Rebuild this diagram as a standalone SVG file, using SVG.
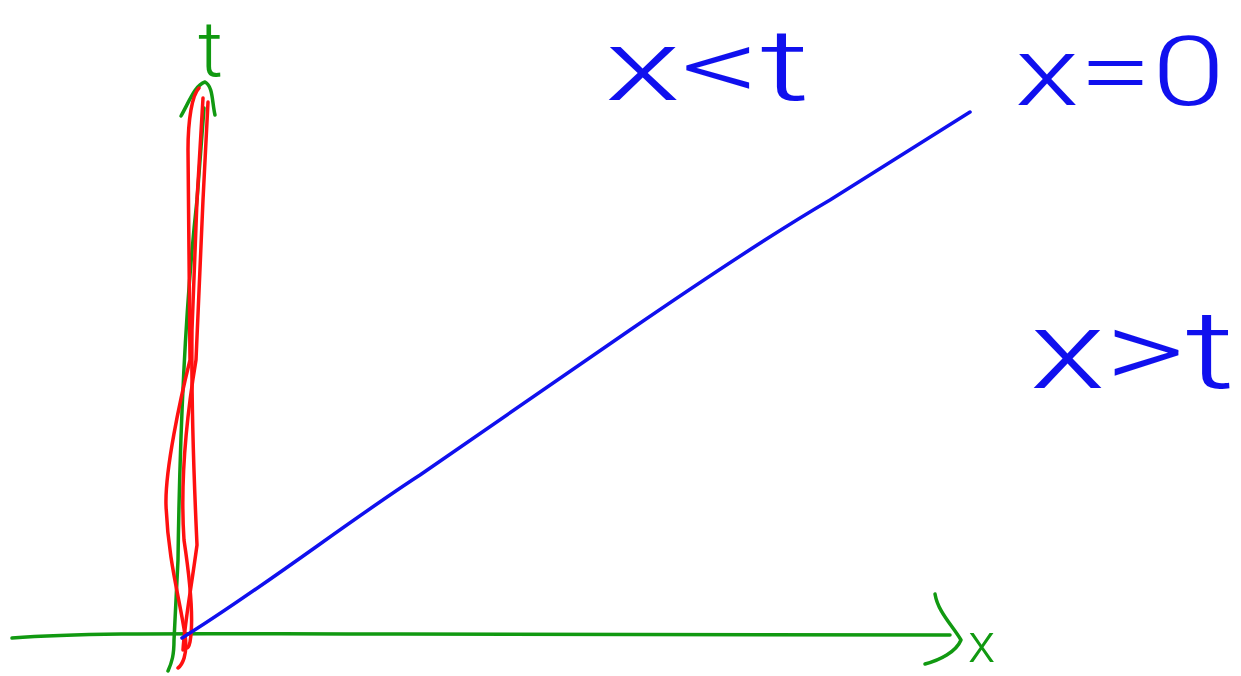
<svg xmlns="http://www.w3.org/2000/svg" width="1241" height="676" viewBox="0 0 1241 676">
<style>
.s{fill:none;stroke-width:3.5;stroke-linecap:round;stroke-linejoin:round}
.g{stroke:#119911}
.r{stroke:#ff1010}
.b{stroke:#1010ee}
.t{font-family:Roboto,"Liberation Sans",Arial,sans-serif;font-weight:300}
.tb{fill:#1010ee}
.tg{fill:#119911}
</style>
<rect width="1241" height="676" fill="#ffffff"/>
<g id="axes">
<path class="s g" d="M12,638 C90,632 200,634 400,634 L950,635"/>
<path class="s g" d="M935,594 C938,612 952,625 961,640 C956,652 940,660 925,664"/>
<path class="s g" d="M168,671 C172,662 174,655 174,640 L178,560 C180,420 186,300 197,200 L204,108"/>
<path class="s g" d="M181,116 C189,102 195,85 205,82 C213,86 212,102 215,115"/>
</g>
<g id="red-curves">
<path class="s r" d="M199,88 C192,95 188,120 188,150 L190,360 C180,400 165,470 166,505 C168,560 180,600 185,635 C188,655 182,665 178,668"/>
<path class="s r" d="M208,102 L203,200 L196,360 C186,420 180,480 184,540 C190,580 194,620 190,642 C188,652 184,648 185,640"/>
<path class="s r" d="M203,98 L197,200 L192,330 C191,420 195,500 197,545 C191,590 185,620 183,650"/>
</g>
<g id="boundary">
<path class="s b" d="M182,638 C260,590 350,520 420,475 L630,330 C700,282 770,235 830,200 L970,112"/>
</g>
<g id="labels">
<text class="t tb" x="605" y="100" font-size="100" textLength="205" lengthAdjust="spacingAndGlyphs">x&lt;t</text>
<text class="t tb" x="1015" y="105" font-size="96" textLength="210" lengthAdjust="spacingAndGlyphs">x=0</text>
<text class="t tb" x="1030" y="388" font-size="110" textLength="205" lengthAdjust="spacingAndGlyphs">x&gt;t</text>
<text class="t tg" x="198" y="76" font-size="78">t</text>
<text class="t tg" x="968" y="662" font-size="56">x</text>
</g>
</svg>
